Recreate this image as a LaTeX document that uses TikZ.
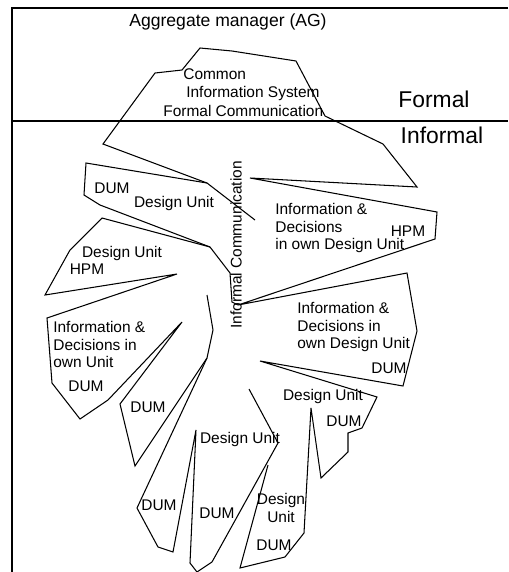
\documentclass[tikz,border=0pt]{standalone}
\usepackage{fontspec}
\setmainfont{Liberation Sans}
\usetikzlibrary{positioning}
\tikzset{
    petal/.style={draw, line width=0.6pt, line join=miter},
    frame/.style={line width=1.1pt},
    divider/.style={line width=0.8pt},
    lbl/.style={inner sep=0pt, font=\fontsize{8.8}{10}\selectfont},
    multi/.style={lbl, align=left, anchor=north west},
    side/.style={inner sep=0pt, font=\fontsize{13}{15}\selectfont, anchor=base}
}

\begin{document}
\begin{tikzpicture}[x=0.02cm, y=-0.02cm]
    \useasboundingbox (0,0) rectangle (508,572);
    % frame and formal / informal border
    \draw[frame] (508,8) -- (12,8) -- (12,572);
    \draw[divider] (12,121) -- (508,121);

    \node[lbl, font=\fontsize{10}{12}\selectfont] (ag) at (228,22) {Aggregate manager (AG)};
    \node[side] (formal) at (434,107) {Formal};
    \node[side] (informal) at (442,143) {Informal};

    % common information system
    \node[lbl, anchor=base west] (common) at (183,79) {Common};
    \node[lbl, anchor=base west] (infosys) at (186,97) {Information System};
    \node[lbl, anchor=base west] (formcomm) at (163,116) {Formal Communication};
    \node[lbl, rotate=90] (infcomm) at (236,245) {Informal Communication};

    % petals on the left
    \node[lbl] (dum1) at (112,188) {DUM};
    \node[lbl] (du1) at (174,203) {Design Unit};
    \node[lbl] (du2) at (122,253) {Design Unit};
    \node[lbl] (hpm2) at (87,269) {HPM};
    \node[multi] (info3) at (53,321) {Information \&\\Decisions in\\own Unit};
    \node[lbl] (dum3) at (86,386) {DUM};
    \node[lbl] (dum4) at (148,407) {DUM};
    \node[lbl] (dum5) at (159,505) {DUM};

    % petals at the bottom
    \node[lbl] (du6) at (240,439) {Design Unit};
    \node[lbl] (dum6) at (217,513) {DUM};
    \node[lbl, align=center, anchor=north] (du7) at (281,493) {Design\\Unit};
    \node[lbl] (dum7) at (274,545) {DUM};
    \node[lbl] (du8) at (323,396) {Design Unit};
    \node[lbl] (dum8) at (344,421) {DUM};

    % petals on the right
    \node[multi] (info9) at (297,302) {Information \&\\Decisions in\\own Design Unit};
    \node[lbl] (dum9) at (389,368) {DUM};
    \node[multi] (info10) at (275,203) {Information \&\\Decisions\\in own Design Unit};
    \node[lbl] (hpm10) at (408,231) {HPM};

    % outlines
    \draw[petal] (255,220) -- (207,183) -- (103,144) -- (155,73) -- (182,70)
        -- (200,48) -- (232,51) -- (296,61) -- (325,116) -- (383,144) -- (417,187)
        -- (250,178) -- (437,212) -- (435,239) -- (238,305) -- (407,273)
        -- (417,331) -- (403,386) -- (260,361) -- (377,397) -- (362,428)
        -- (348,433) -- (348,452) -- (321,478) -- (311,408) -- (304,533)
        -- (285,557) -- (240,568) -- (268,465);
    \draw[petal] (207,183) -- (86,163) -- (84,195) -- (100,205) -- (210,247)
        -- (230,273) -- (232,302) -- (238,305);
    \draw[petal] (210,247) -- (102,218) -- (70,250) -- (45,295) -- (177,274)
        -- (47,318) -- (52,383) -- (80,419) -- (108,400) -- (182,322)
        -- (120,404) -- (135,466) -- (207,358) -- (213,330) -- (207,295);
    \draw[petal] (207,358) -- (137,508) -- (158,547) -- (173,552) -- (196,430)
        -- (190,563) -- (197,572) -- (212,562) -- (278,443) -- (249,389);
\end{tikzpicture}
\end{document}
